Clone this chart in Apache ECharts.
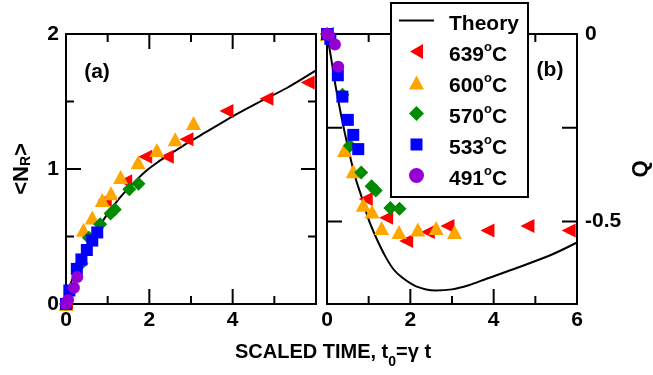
<!DOCTYPE html>
<html><head><meta charset="utf-8">
<script src="https://cdn.jsdelivr.net/npm/echarts@6.0.0/dist/echarts.min.js"></script>
<style>html,body{margin:0;padding:0;background:#fff}#c{width:653px;height:375px}</style>
</head><body><div id="c"></div>
<script>
var FONT = 'Liberation Sans';

// Theory curves: panel (a) <N_R> vs t0, panel (b) Q vs t0
var tA = [0, 0.03, 0.1, 0.2, 0.35, 0.5, 0.75, 1.0, 1.3, 1.6, 1.9, 2.2, 2.5, 2.9, 3.4, 4.0, 4.6, 5.3, 6.0];
var nA = [0, 0.06, 0.14, 0.22, 0.32, 0.41, 0.55, 0.67, 0.79, 0.89, 0.98, 1.05, 1.11, 1.19, 1.28, 1.39, 1.49, 1.6, 1.73];
var tB = [0, 0.1, 0.2, 0.31, 0.41, 0.55, 0.7, 0.83, 1.0, 1.2, 1.4, 1.6, 1.8, 2.14, 2.6, 3.0, 3.4, 3.8, 4.6, 5.4, 6.0];
var qB = [0, -0.065, -0.135, -0.2, -0.255, -0.325, -0.39, -0.434, -0.495, -0.548, -0.593, -0.628, -0.649, -0.673, -0.684, -0.681, -0.67, -0.654, -0.622, -0.588, -0.556];

// 639 C
var t639 = [0, 0.93, 1.42, 1.9, 2.42, 2.89, 3.85, 4.81, 5.8];
var n639 = [0, 0.77, 0.91, 1.09, 1.09, 1.22, 1.43, 1.52, 1.64];
var q639 = [0, -0.44, -0.49, -0.552, -0.528, -0.512, -0.524, -0.512, -0.524];
// 600 C
var t600 = [0, 0.42, 0.63, 0.87, 1.08, 1.31, 1.73, 2.18, 2.62, 3.06];
var n600 = [0, 0.55, 0.64, 0.77, 0.82, 0.94, 1.05, 1.14, 1.22, 1.34];
var q600 = [0, -0.309, -0.366, -0.455, -0.473, -0.517, -0.528, -0.521, -0.517, -0.528];
// 570 C
var t570 = [0, 0.37, 0.55, 0.82, 1.07, 1.17, 1.52, 1.74];
var n570 = [0, 0.30, 0.49, 0.59, 0.67, 0.70, 0.85, 0.89];
var q570 = [0, -0.162, -0.298, -0.369, -0.406, -0.417, -0.464, -0.466];
// 533 C
var t533 = [0, 0.08, 0.26, 0.37, 0.5, 0.63, 0.75];
var n533 = [0, 0.1, 0.26, 0.33, 0.40, 0.47, 0.53];
var q533 = [0, -0.013, -0.11, -0.167, -0.229, -0.269, -0.307];
// 491 C
var t491 = [0, 0.05, 0.19, 0.27];
var n491 = [0, 0.03, 0.12, 0.20];
var q491 = [0, -0.003, -0.028, -0.087];

// ticks and tick labels
var xTicksA = [0, 2, 4];
var xTicksB = [0, 2, 4, 6];
var xMajor = [0, 2, 4, 6];
var xMinor = [1, 3, 5];
var nMajor = [0, 1, 2];
var nMinor = [0.5, 1.5];
var qTicks = [0, -0.25, -0.5];
var qLabels = [0, -0.5];

var X_MIN = 0, X_MAX = 6, N_MIN = 0, N_MAX = 2, Q_MIN = -0.72, Q_MAX = 0;

function zip(a, b) { return a.map(function (v, i) { return [v, b[i]]; }); }
var BLACK = '#000';
function lbl(extra) { return Object.assign({ fontFamily: FONT, fontWeight: 'bold', fontSize: 21, color: BLACK }, extra || {}); }
function ls() { return { color: BLACK, width: 2 }; }

function makeXAxis(grid, pos, labelVals) {
  return { type: 'value', gridIndex: grid, position: pos, min: X_MIN, max: X_MAX, interval: 2,
    axisLine: { show: true, onZero: false, lineStyle: ls() },
    axisTick: { show: false }, minorTick: { show: false },
    splitLine: { show: false },
    axisLabel: labelVals ? lbl({ show: true, customValues: labelVals, margin: 6 }) : { show: false } };
}
function makeYAxis(grid, pos, min, max, interval, labelExtra, nameOpt) {
  var o = { type: 'value', gridIndex: grid, position: pos, min: min, max: max,
    axisLine: { show: true, onZero: false, lineStyle: ls() },
    axisTick: { show: false }, minorTick: { show: false },
    splitLine: { show: false },
    axisLabel: labelExtra ? lbl(Object.assign({ show: true }, labelExtra)) : { show: false } };
  if (interval) o.interval = interval;
  if (nameOpt) Object.assign(o, nameOpt);
  return o;
}

// tick marks drawn through the axes' own scales (api.coord), inside the box, on all four sides
function tickLine(x1, y1, x2, y2) {
  return { type: 'line', shape: { x1: x1, y1: y1, x2: x2, y2: y2 }, style: { stroke: BLACK, lineWidth: 2 } };
}
function xTickSeries(axisIdx, vals, yLo, yHi, len) {
  return { type: 'custom', xAxisIndex: axisIdx, yAxisIndex: axisIdx, silent: true, clip: false, z: 1,
    data: vals.map(function (v) { return [v, yLo]; }),
    renderItem: function (params, api) {
      var v = api.value(0);
      var b = api.coord([v, yLo]), t = api.coord([v, yHi]);
      return { type: 'group', children: [tickLine(b[0], b[1], b[0], b[1] - len), tickLine(t[0], t[1], t[0], t[1] + len)] };
    } };
}
function yTickSeries(axisIdx, vals, xLo, xHi, len) {
  return { type: 'custom', xAxisIndex: axisIdx, yAxisIndex: axisIdx, silent: true, clip: false, z: 1,
    data: vals.map(function (v) { return [xLo, v]; }),
    renderItem: function (params, api) {
      var v = api.value(1);
      var l = api.coord([xLo, v]), r = api.coord([xHi, v]);
      return { type: 'group', children: [tickLine(l[0], l[1], l[0] + len, l[1]), tickLine(r[0], r[1], r[0] - len, r[1])] };
    } };
}

var tempStyles = {
  '639': { symbol: 'triangle', symbolRotate: 90, symbolSize: 14, color: '#ff0000', icon: 'path://M0,0L0,0M35,15L35,15M11,7.5L24,0L24,15Z' },
  '600': { symbol: 'triangle', symbolRotate: 0, symbolSize: [15, 14], color: '#ffa500', icon: 'path://M0,0L0,0M35,15L35,15M10,14.5L17.5,0.5L25,14.5Z' },
  '570': { symbol: 'diamond', symbolRotate: 0, symbolSize: 14, color: '#008b00', icon: 'path://M0,0L0,0M35,15L35,15M17.5,0L25,7.5L17.5,15L10,7.5Z' },
  '533': { symbol: 'rect', symbolRotate: 0, symbolSize: 12, color: '#0000ff', icon: 'path://M0,0L0,0M35,15L35,15M11.5,1.5L23.5,1.5L23.5,13.5L11.5,13.5Z' },
  '491': { symbol: 'circle', symbolRotate: 0, symbolSize: 12, color: '#9400d3', icon: 'path://M0,0L0,0M35,15L35,15M25,7.5A7.5,7.5,0,1,1,10,7.5A7.5,7.5,0,1,1,25,7.5Z' }
};
var theoryIcon = 'path://M0,0L0,0M35,15L35,15M0,6.5L35,6.5L35,8.5L0,8.5Z';
var tempData = { '639': [t639, n639, q639], '600': [t600, n600, q600], '570': [t570, n570, q570], '533': [t533, n533, q533], '491': [t491, n491, q491] };
var temps = ['639', '600', '570', '533', '491'];

var seriesList = [
  xTickSeries(0, xMajor, N_MIN, N_MAX, 15), xTickSeries(0, xMinor, N_MIN, N_MAX, 8),
  yTickSeries(0, nMajor, X_MIN, X_MAX, 15), yTickSeries(0, nMinor, X_MIN, X_MAX, 8),
  xTickSeries(2, xMajor, Q_MIN, Q_MAX, 15), xTickSeries(2, xMinor, Q_MIN, Q_MAX, 8),
  yTickSeries(2, qTicks, X_MIN, X_MAX, 15),
  { type: 'line', name: 'Theory', xAxisIndex: 0, yAxisIndex: 0, data: zip(tA, nA), symbol: 'none', smooth: 0.3, lineStyle: { color: BLACK, width: 2 }, itemStyle: { color: BLACK }, z: 2, silent: true },
  { type: 'line', name: 'Theory', xAxisIndex: 2, yAxisIndex: 2, data: zip(tB, qB), symbol: 'none', smooth: 0.3, lineStyle: { color: BLACK, width: 2 }, itemStyle: { color: BLACK }, z: 2, silent: true }
];
temps.forEach(function (k, i) {
  var s = tempStyles[k], d = tempData[k];
  [[0, d[1]], [2, d[2]]].forEach(function (p) {
    seriesList.push({ type: 'scatter', name: k, xAxisIndex: p[0], yAxisIndex: p[0], data: zip(d[0], p[1]),
      symbol: s.symbol, symbolRotate: s.symbolRotate, symbolSize: s.symbolSize, itemStyle: { color: s.color, opacity: 1 }, z: 3 + i, clip: false });
  });
});

var legendData = [{ name: 'Theory', icon: theoryIcon }].concat(temps.map(function (k) { return { name: k, icon: tempStyles[k].icon }; }));

var option = {
  animation: false,
  backgroundColor: '#fff',
  grid: [{ left: 66, top: 34, width: 250, height: 270 }, { left: 327, top: 34, width: 252, height: 270 }],
  xAxis: [makeXAxis(0, 'bottom', xTicksA), makeXAxis(0, 'top', null), makeXAxis(1, 'bottom', xTicksB), makeXAxis(1, 'top', null)],
  yAxis: [
    makeYAxis(0, 'left', N_MIN, N_MAX, 1, { margin: 7 }, {
      name: '{m|<N}{sub|R}{m|>}', nameLocation: 'middle', nameRotate: 90, nameGap: 33,
      nameTextStyle: { rich: { m: { fontFamily: FONT, fontWeight: 'bold', fontSize: 22, color: BLACK }, sub: { fontFamily: FONT, fontWeight: 'bold', fontSize: 14, color: BLACK, verticalAlign: 'bottom' } } } }),
    makeYAxis(0, 'right', N_MIN, N_MAX, 1, null, null),
    makeYAxis(1, 'left', Q_MIN, Q_MAX, null, null, null),
    makeYAxis(1, 'right', Q_MIN, Q_MAX, null, { margin: 8, customValues: qLabels }, {
      name: 'Q', nameLocation: 'middle', nameRotate: 90, nameGap: 53,
      nameTextStyle: { fontFamily: FONT, fontWeight: 'bold', fontSize: 22, color: BLACK } })
  ],
  legend: {
    data: legendData, orient: 'vertical', left: 391, top: 3, padding: [7, 9, 7, 8], itemGap: 6, itemWidth: 35, itemHeight: 15,
    backgroundColor: '#fff', borderColor: BLACK, borderWidth: 2, selectedMode: false, symbolRotate: 0, symbolKeepAspect: true, z: 50,
    formatter: function (n) { return n === 'Theory' ? '{m|Theory}' : '{m|' + n + '}{sup|o}{m|C}'; },
    textStyle: { fontFamily: FONT, fontWeight: 'bold', fontSize: 21, color: BLACK, padding: [0, 0, 0, 10],
      rich: {
        m: { fontFamily: FONT, fontWeight: 'bold', fontSize: 21, lineHeight: 21, color: BLACK, verticalAlign: 'top', padding: [4, 0, 0, 0] },
        sup: { fontFamily: FONT, fontWeight: 'bold', fontSize: 13, lineHeight: 13, color: BLACK, verticalAlign: 'top' }
      } }
  },
  graphic: [
    { type: 'text', z: 50, x: 97, y: 72, style: { text: '(a)', fontFamily: FONT, fontWeight: 'bold', fontSize: 21, fill: BLACK, align: 'center', verticalAlign: 'middle' } },
    { type: 'text', z: 50, x: 550, y: 70, style: { text: '(b)', fontFamily: FONT, fontWeight: 'bold', fontSize: 21, fill: BLACK, align: 'center', verticalAlign: 'middle' } },
    { type: 'text', z: 50, x: 333, y: 352, style: {
        text: '{m|SCALED TIME, t}{sub|0}{m|=\u03b3 t}', align: 'center', verticalAlign: 'middle',
        rich: {
          m: { fontFamily: FONT, fontWeight: 'bold', fontSize: 20, lineHeight: 20, fill: BLACK, verticalAlign: 'top' },
          sub: { fontFamily: FONT, fontWeight: 'bold', fontSize: 14, lineHeight: 14, fill: BLACK, verticalAlign: 'top', padding: [13, 0, 0, 0] }
        } } }
  ],
  series: seriesList
};

var chart = echarts.init(document.getElementById('c'));
window.chart = chart;
chart.setOption(option);
</script></body></html>
